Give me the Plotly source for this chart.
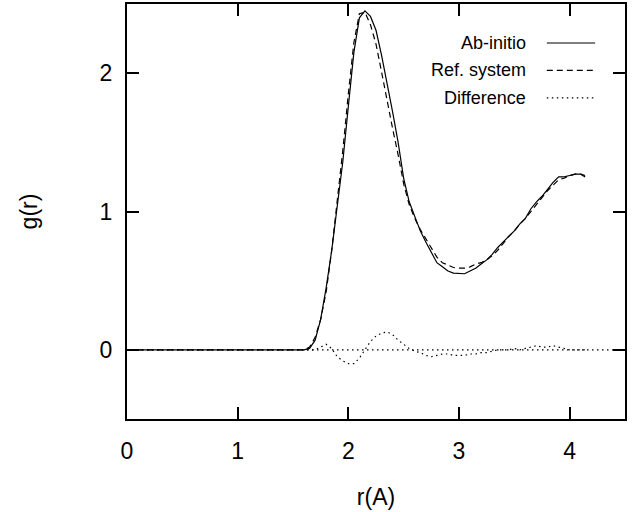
import plotly.graph_objects as go

# ---- data ----
r = [0.0, 1.0, 1.5, 1.6, 1.65, 1.7, 1.75, 1.8, 1.85, 1.9, 1.95, 2.0, 2.05, 2.1, 2.15,
     2.2, 2.25, 2.3, 2.35, 2.4, 2.45, 2.5, 2.55, 2.6, 2.65, 2.7, 2.75, 2.8, 2.85, 2.9,
     2.95, 3.0, 3.05, 3.1, 3.15, 3.2, 3.25, 3.3, 3.35, 3.4, 3.45, 3.5, 3.55, 3.6, 3.65,
     3.7, 3.75, 3.8, 3.85, 3.9, 3.95, 4.0, 4.05, 4.1, 4.14]

g_abinitio = [0.0, 0.0, 0.0, 0.0, 0.01, 0.07, 0.22, 0.45, 0.72, 1.02, 1.36, 1.76, 2.15, 2.40, 2.45,
              2.41, 2.31, 2.13, 1.93, 1.72, 1.50, 1.24, 1.07, 0.96, 0.86, 0.78, 0.70, 0.63, 0.60, 0.57,
              0.555, 0.55, 0.55, 0.57, 0.59, 0.62, 0.65, 0.69, 0.74, 0.78, 0.82, 0.86, 0.91, 0.95, 1.02,
              1.07, 1.11, 1.16, 1.21, 1.25, 1.25, 1.26, 1.27, 1.27, 1.25]

g_ref = [0.0, 0.0, 0.0, 0.0, 0.02, 0.09, 0.22, 0.42, 0.72, 1.08, 1.44, 1.85, 2.22, 2.43, 2.44,
         2.35, 2.21, 2.01, 1.80, 1.60, 1.41, 1.20, 1.05, 0.95, 0.87, 0.80, 0.73, 0.67, 0.63, 0.61,
         0.595, 0.59, 0.59, 0.60, 0.62, 0.63, 0.65, 0.68, 0.72, 0.77, 0.82, 0.86, 0.91, 0.95, 1.00,
         1.05, 1.10, 1.15, 1.19, 1.23, 1.24, 1.26, 1.27, 1.27, 1.26]

g_diff = [0.0, 0.0, 0.0, 0.0, 0.0, 0.0, 0.02, 0.04, 0.01, -0.05, -0.08, -0.10, -0.10, -0.06, 0.0,
          0.06, 0.10, 0.12, 0.13, 0.11, 0.07, 0.04, 0.01, -0.01, -0.02, -0.04, -0.05, -0.04, -0.03, -0.03,
          -0.04, -0.04, -0.04, -0.03, -0.03, -0.02, -0.02, -0.01, 0.0, 0.0, 0.0, 0.01, 0.0, 0.01, 0.02,
          0.03, 0.02, 0.02, 0.03, 0.02, 0.01, 0.0, 0.0, 0.0, 0.0]

series_names = ["Ab-initio", "Ref. system", "Difference"]
x_ticks = [0, 1, 2, 3, 4]
y_ticks = [0, 1, 2]
x_range = [0, 4.5]
y_range = [-0.5, 2.5]

dashes = ["solid", "6px,4px", "1.5px,3.5px"]
FONT = "Liberation Sans, Arial, sans-serif"

fig = go.Figure()
for name, ys, d in zip(series_names, [g_abinitio, g_ref, g_diff], dashes):
    fig.add_trace(go.Scatter(x=r, y=ys, mode="lines", name=name, showlegend=False,
                             line=dict(color="black", width=1.2, dash=d)))

# dotted zero line
fig.add_shape(type="line", xref="paper", yref="y", x0=0, x1=1, y0=0, y1=0,
              line=dict(color="black", width=1.2, dash=dashes[2]), layer="below")

# manual legend (text left, sample right, as in the reference)
leg_y = [0.906, 0.840, 0.774]
for name, yy, d in zip(series_names, leg_y, dashes):
    fig.add_annotation(x=0.806, y=yy, xref="paper", yref="paper", text=name,
                       showarrow=False, xanchor="right", yanchor="middle",
                       font=dict(family=FONT, size=18, color="black"))
    fig.add_shape(type="line", xref="paper", yref="paper", x0=0.843, x1=0.94,
                  y0=yy, y1=yy, line=dict(color="black", width=1.2, dash=d))

axis_common = dict(showline=True, linecolor="black", linewidth=2, mirror="ticks",
                   ticks="inside", ticklen=12, tickwidth=1.5, tickcolor="black",
                   showgrid=False, zeroline=False,
                   tickfont=dict(family=FONT, size=23, color="black"))

fig.update_xaxes(range=x_range, tickvals=x_ticks, ticktext=[str(t) for t in x_ticks],
                 title=dict(text="r(A)", font=dict(family=FONT, size=23, color="black"), standoff=26),
                 ticklabelstandoff=10, **axis_common)
fig.update_yaxes(range=y_range, tickvals=y_ticks, ticktext=[str(t) for t in y_ticks],
                 title=dict(text="g(r)", font=dict(family=FONT, size=23, color="black"), standoff=56),
                 ticklabelstandoff=8, **axis_common)

fig.update_layout(width=637, height=512, margin=dict(l=127, r=12, t=4, b=93, autoexpand=False),
                  paper_bgcolor="white", plot_bgcolor="white", showlegend=False)

fig.write_html("out.html")
